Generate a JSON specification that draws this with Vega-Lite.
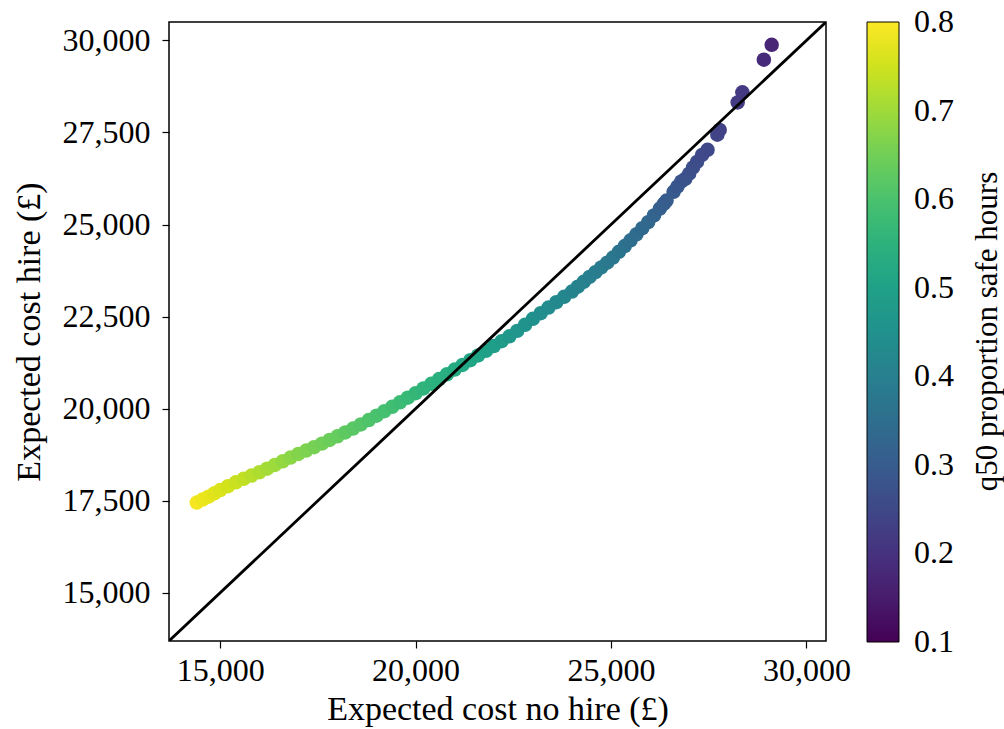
{
  "$schema": "https://vega.github.io/schema/vega-lite/v6.json",
  "width": 657,
  "height": 619,
  "autosize": {"type": "none"},
  "padding": {"left": 169, "top": 22, "right": 178, "bottom": 88},
  "background": "white",
  "config": {
    "font": "Liberation Serif",
    "view": {"stroke": "black", "strokeWidth": 1.5},
    "title": {"font": "Liberation Serif"},
    "axis": {
      "domain": false,
      "grid": false,
      "ticks": true,
      "tickColor": "black",
      "tickSize": 7,
      "tickWidth": 1.2,
      "labelFont": "Liberation Serif",
      "labelFontSize": 32,
      "labelColor": "black",
      "labelFlush": false,
      "labelPadding": 7,
      "titleFont": "Liberation Serif",
      "titleFontSize": 34,
      "titleFontWeight": "normal",
      "titleColor": "black"
    }
  },
  "title": {
    "text": "q50 proportion safe hours",
    "orient": "right",
    "angle": 270,
    "frame": "group",
    "anchor": "middle",
    "baseline": "alphabetic",
    "offset": 12,
    "font": "Liberation Serif",
    "fontSize": 31,
    "fontWeight": "normal",
    "color": "black"
  },
  "layer": [
    {
      "data": {
        "values": [
          {"x": 14400, "y": 17450, "c": 0.790},
          {"x": 14550, "y": 17530, "c": 0.783},
          {"x": 14700, "y": 17610, "c": 0.776},
          {"x": 14850, "y": 17700, "c": 0.769},
          {"x": 15000, "y": 17790, "c": 0.762},
          {"x": 15200, "y": 17894, "c": 0.753},
          {"x": 15400, "y": 17998, "c": 0.744},
          {"x": 15600, "y": 18094, "c": 0.735},
          {"x": 15800, "y": 18182, "c": 0.725},
          {"x": 16000, "y": 18270, "c": 0.716},
          {"x": 16200, "y": 18370, "c": 0.707},
          {"x": 16400, "y": 18470, "c": 0.698},
          {"x": 16600, "y": 18570, "c": 0.688},
          {"x": 16800, "y": 18670, "c": 0.679},
          {"x": 17000, "y": 18770, "c": 0.670},
          {"x": 17200, "y": 18862, "c": 0.663},
          {"x": 17400, "y": 18954, "c": 0.656},
          {"x": 17600, "y": 19050, "c": 0.649},
          {"x": 17800, "y": 19150, "c": 0.642},
          {"x": 18000, "y": 19250, "c": 0.635},
          {"x": 18200, "y": 19354, "c": 0.628},
          {"x": 18400, "y": 19458, "c": 0.621},
          {"x": 18600, "y": 19570, "c": 0.614},
          {"x": 18800, "y": 19690, "c": 0.607},
          {"x": 19000, "y": 19810, "c": 0.600},
          {"x": 19200, "y": 19930, "c": 0.593},
          {"x": 19400, "y": 20050, "c": 0.586},
          {"x": 19600, "y": 20172, "c": 0.579},
          {"x": 19800, "y": 20296, "c": 0.572},
          {"x": 20000, "y": 20420, "c": 0.565},
          {"x": 20200, "y": 20548, "c": 0.558},
          {"x": 20400, "y": 20676, "c": 0.551},
          {"x": 20600, "y": 20804, "c": 0.544},
          {"x": 20800, "y": 20932, "c": 0.537},
          {"x": 21000, "y": 21060, "c": 0.530},
          {"x": 21200, "y": 21188, "c": 0.523},
          {"x": 21400, "y": 21316, "c": 0.515},
          {"x": 21600, "y": 21444, "c": 0.507},
          {"x": 21800, "y": 21572, "c": 0.499},
          {"x": 22000, "y": 21700, "c": 0.490},
          {"x": 22200, "y": 21832, "c": 0.482},
          {"x": 22400, "y": 21964, "c": 0.474},
          {"x": 22600, "y": 22112, "c": 0.466},
          {"x": 22800, "y": 22276, "c": 0.458},
          {"x": 23000, "y": 22440, "c": 0.450},
          {"x": 23200, "y": 22592, "c": 0.443},
          {"x": 23400, "y": 22744, "c": 0.436},
          {"x": 23600, "y": 22892, "c": 0.429},
          {"x": 23800, "y": 23036, "c": 0.422},
          {"x": 24000, "y": 23180, "c": 0.415},
          {"x": 24150, "y": 23312, "c": 0.410},
          {"x": 24300, "y": 23444, "c": 0.405},
          {"x": 24450, "y": 23576, "c": 0.399},
          {"x": 24600, "y": 23706, "c": 0.394},
          {"x": 24750, "y": 23835, "c": 0.389},
          {"x": 24900, "y": 23964, "c": 0.383},
          {"x": 25050, "y": 24102, "c": 0.377},
          {"x": 25200, "y": 24258, "c": 0.369},
          {"x": 25350, "y": 24414, "c": 0.361},
          {"x": 25500, "y": 24570, "c": 0.353},
          {"x": 25650, "y": 24735, "c": 0.345},
          {"x": 25800, "y": 24900, "c": 0.337},
          {"x": 25950, "y": 25065, "c": 0.329},
          {"x": 26100, "y": 25246, "c": 0.321},
          {"x": 26250, "y": 25435, "c": 0.313},
          {"x": 26350, "y": 25561, "c": 0.307},
          {"x": 26420, "y": 25650, "c": 0.303},
          {"x": 26600, "y": 25890, "c": 0.295},
          {"x": 26700, "y": 26030, "c": 0.290},
          {"x": 26800, "y": 26170, "c": 0.284},
          {"x": 26900, "y": 26240, "c": 0.278},
          {"x": 27000, "y": 26380, "c": 0.272},
          {"x": 27100, "y": 26550, "c": 0.266},
          {"x": 27200, "y": 26700, "c": 0.261},
          {"x": 27330, "y": 26890, "c": 0.255},
          {"x": 27470, "y": 27030, "c": 0.249},
          {"x": 27720, "y": 27440, "c": 0.240},
          {"x": 27780, "y": 27570, "c": 0.237},
          {"x": 28240, "y": 28315, "c": 0.222},
          {"x": 28360, "y": 28590, "c": 0.216},
          {"x": 28910, "y": 29475, "c": 0.184},
          {"x": 29110, "y": 29880, "c": 0.171}
        ]
      },
      "mark": {"type": "circle", "size": 210, "opacity": 1},
      "encoding": {
        "x": {
          "field": "x",
          "type": "quantitative",
          "title": "Expected cost no hire (£)",
          "scale": {"domain": [13690, 30500], "nice": false, "zero": false},
          "axis": {"values": [15000, 20000, 25000, 30000], "format": ",d", "titlePadding": 6}
        },
        "y": {
          "field": "y",
          "type": "quantitative",
          "title": "Expected cost hire (£)",
          "scale": {"domain": [13690, 30500], "nice": false, "zero": false},
          "axis": {"values": [15000, 17500, 20000, 22500, 25000, 27500, 30000], "format": ",d", "labelPadding": 12, "titlePadding": 16}
        },
        "color": {
          "field": "c",
          "type": "quantitative",
          "scale": {"scheme": "viridis", "domain": [0.1, 0.8]},
          "legend": {
            "orient": "none",
            "legendX": 698,
            "legendY": 0,
            "direction": "vertical",
            "gradientLength": 620,
            "gradientThickness": 32,
            "gradientStrokeColor": "black",
            "gradientStrokeWidth": 1,
            "values": [0.1000001, 0.2, 0.3, 0.4, 0.5, 0.6, 0.7, 0.7999999],
            "format": ".1f",
            "labelFont": "Liberation Serif",
            "labelFontSize": 32,
            "labelColor": "black",
            "labelOffset": 15,
            "labelBaseline": "middle",
            "labelOverlap": false,
            "title": null
          }
        }
      }
    },
    {
      "data": {"values": [{"x": 13690, "y": 13690}, {"x": 30500, "y": 30500}]},
      "mark": {"type": "line", "color": "black", "strokeWidth": 2.8, "clip": true},
      "encoding": {
        "x": {"field": "x", "type": "quantitative"},
        "y": {"field": "y", "type": "quantitative"}
      }
    }
  ]
}
